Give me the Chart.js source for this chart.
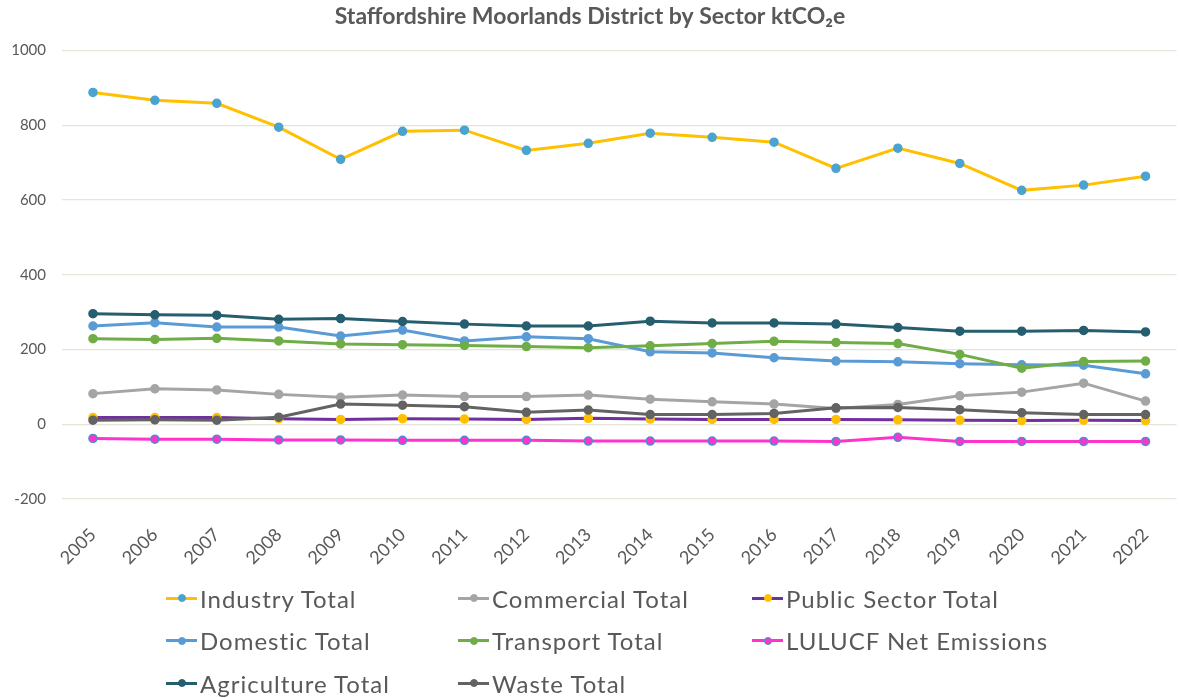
<!DOCTYPE html>
<html><head><meta charset="utf-8">
<script src="https://cdn.jsdelivr.net/npm/chart.js@4.4.1/dist/chart.umd.min.js"></script>
<style>
html,body{margin:0;padding:0;background:#fff;}
#wrap{position:relative;width:1182px;height:698px;overflow:hidden;}
#c{position:absolute;left:0;top:0;}
#legend{position:absolute;left:166px;top:577px;display:grid;grid-template-columns:292px 294px 330px;grid-auto-rows:42.5px;font-family:Lato,"Liberation Sans",sans-serif;font-size:24px;letter-spacing:1px;color:#595959;}
.item{display:flex;align-items:center;white-space:nowrap;}
.sw{position:relative;width:31px;height:10px;margin-right:3px;flex:none;}
.sw .ln{position:absolute;left:0;right:0;top:3.5px;height:3px;}
.sw .dot{position:absolute;left:11.5px;top:1px;width:8px;height:8px;border-radius:50%;box-sizing:border-box;}
</style></head>
<body>
<div id="wrap">
<canvas id="c" width="1182" height="698"></canvas>
<div id="legend"></div>
</div>
<script>
const years = ['2005','2006','2007','2008','2009','2010','2011','2012','2013','2014','2015','2016','2017','2018','2019','2020','2021','2022'];
const industry    = [888,867,859,795,709,784,787,733,752,779,768,755,685,739,698,626,640,664];
const commercial  = [82,95,92,80,72,78,74,74,78,67,60,54,42,53,76,86,110,62];
const publicSector= [18,18,18,15,13,15,14,13,16,14,13,13,13,12,11,10,11,10];
const domestic    = [263,272,260,260,236,252,223,234,229,194,191,178,169,167,162,159,158,135];
const transport   = [229,227,230,223,215,213,211,208,205,210,216,222,219,216,187,150,168,169];
const lulucf      = [-38,-40,-40,-42,-42,-43,-43,-43,-45,-45,-45,-45,-46,-35,-46,-46,-46,-46];
const agriculture = [296,293,292,281,283,275,268,263,263,276,271,271,268,259,249,249,251,247];
const waste       = [11,12,11,19,54,51,47,32,38,26,26,29,44,45,39,31,26,26];
const yTicks = [-200,0,200,400,600,800,1000];

const names = ['Industry Total','Commercial Total','Public Sector Total','Domestic Total','Transport Total','LULUCF Net Emissions','Agriculture Total','Waste Total'];
const values = [industry,commercial,publicSector,domestic,transport,lulucf,agriculture,waste];
const lineColors = ['#FFC000','#A5A5A5','#7030A0','#5B9BD5','#70AD47','#FF33CC','#255E6F','#636363'];
const pointFill  = ['#4BA3D0','#A5A5A5','#FFC000','#5B9BD5','#70AD47','#FF33CC','#255E6F','#636363'];
const pointEdge  = ['#4BA3D0','#A5A5A5','#FFC000','#5B9BD5','#70AD47','#4A8FCF','#255E6F','#636363'];

const datasets = names.map((n,i)=>({
  label:n, data:values[i], borderColor:lineColors[i], backgroundColor:pointFill[i],
  pointBackgroundColor:pointFill[i], pointBorderColor:pointEdge[i], pointBorderWidth:1.5,
  pointRadius:4, borderWidth:3, tension:0, order:names.length-1-i
}));

const FONT = 'Lato, "Liberation Sans", sans-serif';
new Chart(document.getElementById('c'), {
  type:'line',
  data:{labels:years, datasets},
  options:{
    responsive:false, animation:false,
    layout:{padding:{left:0,right:2,top:0,bottom:119}},
    plugins:{
      legend:{display:false},
      tooltip:{enabled:false},
      title:{display:true,text:'Staffordshire Moorlands District by Sector ktCO₂e',
        color:'#595959',font:{family:FONT,size:23,weight:'bold'},padding:{top:3,bottom:20}}
    },
    scales:{
      x:{offset:true,
        grid:{display:false},border:{display:false},
        ticks:{color:'#595959',font:{family:FONT,size:18},maxRotation:45,minRotation:45,padding:17},
        afterFit:s=>{s.height=80;}},
      y:{min:-200,max:1000,
        afterBuildTicks:s=>{s.ticks=yTicks.map(v=>({value:v}));},
        grid:{color:'#E4E4D8',lineWidth:1.2,drawTicks:false},border:{display:false},
        ticks:{color:'#595959',font:{family:FONT,size:15},padding:16,callback:v=>String(v)},
        afterFit:s=>{s.width=62;}}
    }
  }
});

const lg = document.getElementById('legend');
names.forEach((n,i)=>{
  const it=document.createElement('div'); it.className='item';
  it.innerHTML='<span class="sw"><span class="ln" style="background:'+lineColors[i]+'"></span><span class="dot" style="background:'+pointFill[i]+';border:1.5px solid '+pointEdge[i]+'"></span></span><span>'+n+'</span>';
  lg.appendChild(it);
});
</script>
</body></html>
